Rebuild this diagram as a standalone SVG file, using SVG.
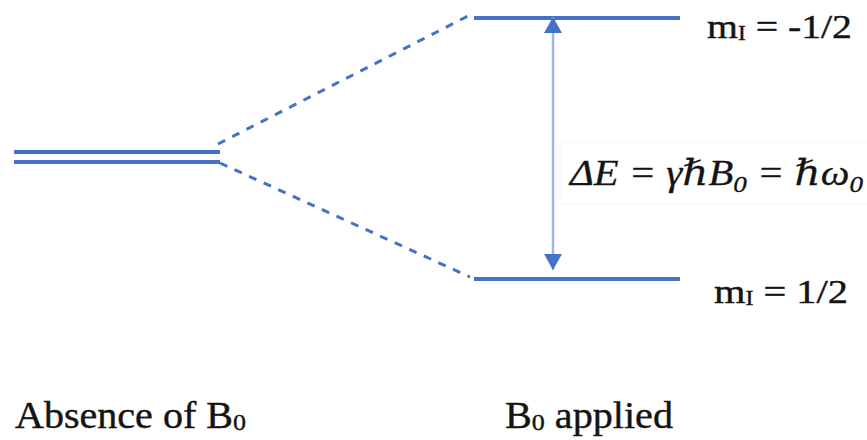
<svg xmlns="http://www.w3.org/2000/svg" width="867" height="440" viewBox="0 0 867 440">
  <style>
    .lvl { stroke: #4472C4; stroke-width: 4; stroke-linecap: butt; fill: none; }
    .dash { stroke: #4472C4; stroke-width: 3; stroke-dasharray: 8 8; fill: none; }
    .txt { font-family: "Liberation Serif", "Times New Roman", serif; fill: #141414; stroke: #141414; stroke-width: 0.4; }
    .eq { font-family: "Liberation Serif", "DejaVu Serif", serif; font-style: italic; fill: #141414; stroke: #141414; stroke-width: 0.3; }
  </style>
  <defs>
    <marker id="ah" viewBox="0 0 16 18" refX="16" refY="9" markerWidth="16" markerHeight="18" markerUnits="userSpaceOnUse" orient="auto">
      <path d="M0,0 L16,9 L0,18 Z" fill="#4472C4"/>
    </marker>
  </defs>
  <rect width="867" height="440" fill="#ffffff"/>

  <g id="degenerate-level">
    <line class="lvl" x1="14" y1="152" x2="220" y2="152" stroke-width="3.5"/>
    <line class="lvl" x1="14" y1="162" x2="220" y2="162" stroke-width="3.5"/>
  </g>

  <g id="upper-level">
    <line class="lvl" x1="474" y1="18" x2="680" y2="18"/>
    <text class="txt" x="707" y="38" font-size="34" textLength="145" lengthAdjust="spacingAndGlyphs">m<tspan font-size="20" dy="2">I</tspan><tspan dy="-2"> = -1/2</tspan></text>
  </g>

  <g id="lower-level">
    <line class="lvl" x1="474" y1="279" x2="680" y2="279"/>
    <text class="txt" x="714" y="303" font-size="34" textLength="134" lengthAdjust="spacingAndGlyphs">m<tspan font-size="20" dy="2">I</tspan><tspan dy="-2"> = 1/2</tspan></text>
  </g>

  <g id="connectors">
    <line class="dash" x1="218" y1="144" x2="468" y2="16"/>
    <line class="dash" x1="220" y1="163" x2="470" y2="277"/>
    <line x1="553" y1="140" x2="553" y2="17" stroke="#9DB6E4" stroke-width="2.5" marker-end="url(#ah)"/>
    <line x1="553" y1="140" x2="553" y2="270" stroke="#9DB6E4" stroke-width="2.5" marker-end="url(#ah)"/>
  </g>

  <g id="energy-label">
    <rect x="560" y="142" width="310" height="62" fill="#ffffff" stroke="#f5f5f5" stroke-width="1"/>
    <text class="eq" x="570" y="185" font-size="36" textLength="293" lengthAdjust="spacingAndGlyphs">ΔE = γℏB<tspan font-size="24" dy="7">0</tspan><tspan dy="-7"> = ℏω</tspan><tspan font-size="24" dy="7">0</tspan></text>
  </g>

  <g id="label-absence">
    <text class="txt" x="15" y="428" font-size="37" textLength="231" lengthAdjust="spacingAndGlyphs">Absence of B<tspan font-size="24" dy="2">0</tspan></text>
  </g>

  <g id="label-applied">
    <text class="txt" x="505" y="428" font-size="37" textLength="168" lengthAdjust="spacingAndGlyphs">B<tspan font-size="24" dy="2">0</tspan><tspan dy="-2"> applied</tspan></text>
  </g>
</svg>
